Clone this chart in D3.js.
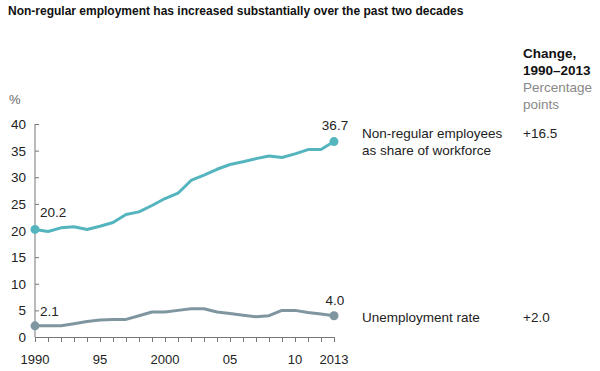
<!DOCTYPE html>
<html>
<head>
<meta charset="utf-8">
<script src="https://cdn.jsdelivr.net/npm/d3@7"></script>
<style>
  body { margin: 0; background: #fff; }
  text { font-family: "Liberation Sans", Arial, sans-serif; }
</style>
</head>
<body>
<script>
// data
const years = d3.range(1990, 2014);
const nonRegular = [20.2, 19.8, 20.5, 20.7, 20.2, 20.8, 21.5, 23.0, 23.5, 24.7, 26.0, 27.0,
                    29.4, 30.4, 31.5, 32.4, 32.9, 33.5, 34.0, 33.7, 34.4, 35.2, 35.2, 36.7];
const unemployment = [2.1, 2.1, 2.1, 2.5, 2.9, 3.2, 3.3, 3.3, 4.0, 4.7, 4.7, 5.0,
                      5.3, 5.3, 4.7, 4.4, 4.1, 3.8, 4.0, 5.0, 5.0, 4.6, 4.3, 4.0];
const yTicks = [0, 5, 10, 15, 20, 25, 30, 35, 40];
const xTicks = [1990, 1995, 2000, 2005, 2010, 2013];
const xTickLabels = ["1990", "95", "2000", "05", "10", "2013"];
const seriesNames = [["Non-regular employees", "as share of workforce"], ["Unemployment rate"]];
const changes = ["+16.5", "+2.0"];

const canvWidth = 600, canvHeight = 371;
const svg = d3.select("body").append("svg")
    .attr("width", canvWidth)
    .attr("height", canvHeight);

const teal = "#55b5be", grey = "#7f96a1";

const xScale = d3.scaleLinear().domain([1990, 2013]).range([35, 334]);
const yScale = d3.scaleLinear().domain([0, 40]).range([337, 124]);

// title
svg.append("text")
    .attr("x", 8).attr("y", 15)
    .attr("font-size", "12px")
    .attr("font-weight", "bold")
    .attr("fill", "#111")
    .text("Non-regular employment has increased substantially over the past two decades");

// y axis
svg.append("line")
    .attr("x1", 35).attr("x2", 35)
    .attr("y1", yScale(40)).attr("y2", yScale(0))
    .attr("stroke", "#777").attr("stroke-width", 1);

svg.selectAll(".ytick")
    .data(yTicks)
    .join("line")
    .attr("x1", 35).attr("x2", 39)
    .attr("y1", d => yScale(d) + 0.5).attr("y2", d => yScale(d) + 0.5)
    .attr("stroke", "#777");

svg.selectAll(".ylab")
    .data(yTicks)
    .join("text")
    .attr("x", 26)
    .attr("y", d => yScale(d) + 5)
    .attr("text-anchor", "end")
    .attr("font-size", "13.5px")
    .attr("fill", "#222")
    .text(d => d);

svg.append("text")
    .attr("x", 9).attr("y", 104)
    .attr("font-size", "13px")
    .attr("fill", "#666")
    .text("%");

// x axis
svg.append("line")
    .attr("x1", 35).attr("x2", 334)
    .attr("y1", yScale(0) + 0.5).attr("y2", yScale(0) + 0.5)
    .attr("stroke", "#777");

svg.selectAll(".xtick")
    .data(years)
    .join("line")
    .attr("x1", d => Math.round(xScale(d)) + 0.5).attr("x2", d => Math.round(xScale(d)) + 0.5)
    .attr("y1", yScale(0)).attr("y2", yScale(0) + 5)
    .attr("stroke", "#777");

svg.selectAll(".xlab")
    .data(xTicks)
    .join("text")
    .attr("x", d => xScale(d))
    .attr("y", 364)
    .attr("text-anchor", "middle")
    .attr("font-size", "13px")
    .attr("fill", "#222")
    .text((d, i) => xTickLabels[i]);

// lines
const line = d3.line()
    .x((d, i) => xScale(years[i]))
    .y(d => yScale(d));

[[nonRegular, teal], [unemployment, grey]].forEach(([vals, col]) => {
    svg.append("path")
        .datum(vals)
        .attr("d", line)
        .attr("fill", "none")
        .attr("stroke", col)
        .attr("stroke-width", 3)
        .attr("stroke-linejoin", "round");

    svg.selectAll(null)
        .data([0, vals.length - 1])
        .join("circle")
        .attr("cx", i => xScale(years[i]))
        .attr("cy", i => yScale(vals[i]))
        .attr("r", 4.5)
        .attr("fill", col);
});

// end labels
const valLabel = (x, y, t, anchor) => svg.append("text")
    .attr("x", x).attr("y", y)
    .attr("text-anchor", anchor)
    .attr("font-size", "13.5px")
    .attr("fill", "#222")
    .text(t);

valLabel(xScale(1990) + 5, yScale(nonRegular[0]) - 12, nonRegular[0].toFixed(1), "start");
valLabel(xScale(2013) + 1, yScale(nonRegular[23]) - 12, nonRegular[23].toFixed(1), "middle");
valLabel(xScale(1990) + 5, yScale(unemployment[0]) - 10, unemployment[0].toFixed(1), "start");
valLabel(xScale(2013) + 1, yScale(unemployment[23]) - 11, unemployment[23].toFixed(1), "middle");

// right side
const head = svg.append("g").attr("font-size", "13.5px");
head.append("text").attr("x", 523).attr("y", 58).attr("font-weight", "bold").attr("fill", "#111").text("Change,");
head.append("text").attr("x", 523).attr("y", 75).attr("font-weight", "bold").attr("fill", "#111").text("1990–2013");
head.append("text").attr("x", 523).attr("y", 92).attr("fill", "#888").text("Percentage");
head.append("text").attr("x", 523).attr("y", 109).attr("fill", "#888").text("points");

const rowY = [138, 322];
seriesNames.forEach((lines, i) => {
    lines.forEach((t, j) => {
        svg.append("text")
            .attr("x", 362).attr("y", rowY[i] + j * 17)
            .attr("font-size", "13.5px")
            .attr("fill", "#222")
            .text(t);
    });
    svg.append("text")
        .attr("x", 523).attr("y", rowY[i])
        .attr("font-size", "13.5px")
        .attr("fill", "#222")
        .text(changes[i]);
});
</script>
</body>
</html>
